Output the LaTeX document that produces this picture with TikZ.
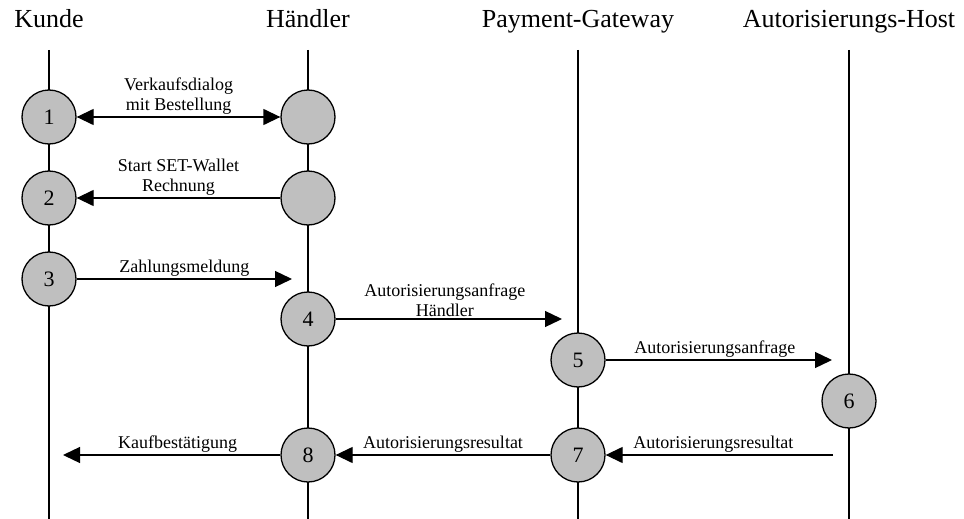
\documentclass[tikz,border=0pt]{standalone}
\usepackage{fontspec}
\setmainfont{Liberation Serif}
\usetikzlibrary{arrows.meta}
\begin{document}
\begin{tikzpicture}[x=1pt,y=-1pt,
  actor/.style={font=\fontsize{26}{30}\selectfont, inner sep=0pt, anchor=base},
  station/.style={circle, draw, line width=1.3pt, fill=black!25, minimum size=54pt,
    inner sep=0pt, font=\fontsize{22}{24}\selectfont},
  lifeline/.style={line width=1.3pt},
  msg/.style={line width=1.3pt, -{Triangle[length=17pt,width=16pt]}},
  msgboth/.style={line width=1.3pt, {Triangle[length=17pt,width=16pt]}-{Triangle[length=17pt,width=16pt]}},
  msglabel/.style={font=\fontsize{18}{20}\selectfont, align=center, inner sep=1pt}
]
\useasboundingbox (0,0) rectangle (964,519);

% participants
\node[actor] (kunde)   at (49,28)  {Kunde};
\node[actor] (haendler) at (308,28) {Händler};
\node[actor] (gateway) at (578,28) {Payment-Gateway};
\node[actor] (host)    at (849,28) {Autorisierungs-Host};

% lifelines
\coordinate (kTop) at (49,50);   \coordinate (kBot) at (49,519);
\coordinate (hTop) at (308,50);  \coordinate (hBot) at (308,519);
\coordinate (gTop) at (578,50);  \coordinate (gBot) at (578,519);
\coordinate (aTop) at (849,50);  \coordinate (aBot) at (849,519);
\draw[lifeline] (kTop) -- (kBot);
\draw[lifeline] (hTop) -- (hBot);
\draw[lifeline] (gTop) -- (gBot);
\draw[lifeline] (aTop) -- (aBot);

% processing steps
\node[station] (s1) at (49,117) {1};
\node[station] (h1) at (308,117) {};
\node[station] (s2) at (49,198) {2};
\node[station] (h2) at (308,198) {};
\node[station] (s3) at (49,279) {3};
\node[station] (s4) at (308,319) {4};
\node[station] (s5) at (578,360) {5};
\node[station] (s6) at (849,401) {6};
\node[station] (s7) at (578,455) {7};
\node[station] (s8) at (308,455) {8};

% free message ends
\coordinate (e3) at (292,279);
\coordinate (e4) at (562,319);
\coordinate (e5) at (832,360);
\coordinate (e6) at (833,455);
\coordinate (e8) at (63,455);

% messages
\draw[msgboth] (s1) -- (h1)
  node[msglabel, midway, above=1pt] {Verkaufsdialog\\mit Bestellung};
\draw[msg] (h2) -- (s2)
  node[msglabel, midway, above=1pt] {Start SET-Wallet\\Rechnung};
\draw[msg] (s3) -- (e3)
  node[msglabel, midway, above=1pt] {Zahlungsmeldung};
\draw[msg] (s4) -- (e4)
  node[msglabel, midway, above=1pt, xshift=-4pt] {Autorisierungsanfrage\\Händler};
\draw[msg] (s5) -- (e5)
  node[msglabel, midway, above=1pt, xshift=-4pt] {Autorisierungsanfrage};
\draw[msg] (e6) -- (s7)
  node[msglabel, midway, above=1pt, xshift=-6pt] {Autorisierungsresultat};
\draw[msg] (s7) -- (s8)
  node[msglabel, midway, above=1pt] {Autorisierungsresultat};
\draw[msg] (s8) -- (e8)
  node[msglabel, midway, above=1pt, xshift=6pt] {Kaufbestätigung};
\end{tikzpicture}
\end{document}
